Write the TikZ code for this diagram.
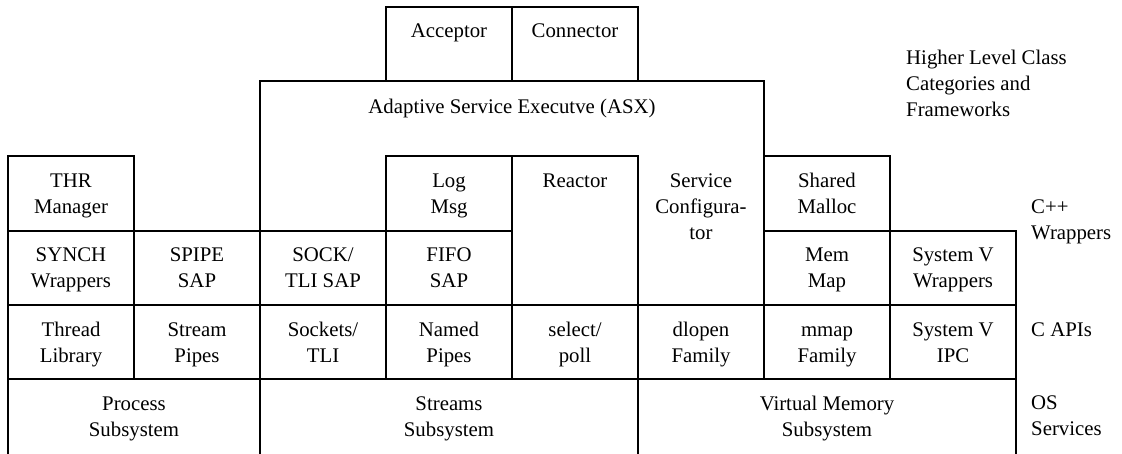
\documentclass[tikz,border=0pt]{standalone}
\usepackage{fontspec}
\setmainfont{Liberation Serif}
\newcommand{\fst}{\rule{0pt}{20pt}}
\begin{document}
\begin{tikzpicture}[x=1pt,y=-1pt,
  wall/.style={line width=1.2pt, line cap=rect},
  cell/.style={anchor=north, inner sep=0pt, align=center, font=\fontsize{20.8}{26}\selectfont},
  side/.style={anchor=north west, inner sep=0pt, align=left, font=\fontsize{20.8}{26}\selectfont}]
\useasboundingbox (0,0) rectangle (1122,454);
% horizontal lines
\draw[wall] (386,7) -- (638,7);
\draw[wall] (260,81) -- (764,81);
\draw[wall] (8,156) -- (134,156);
\draw[wall] (386,156) -- (638,156);
\draw[wall] (764,156) -- (890,156);
\draw[wall] (8,231) -- (512,231);
\draw[wall] (764,231) -- (1016,231);
\draw[wall] (8,305) -- (1016,305);
\draw[wall] (8,379) -- (1016,379);
% vertical lines
\draw[wall] (8,156) -- (8,455);
\draw[wall] (134,156) -- (134,379);
\draw[wall] (260,81) -- (260,455);
\draw[wall] (386,7) -- (386,81);
\draw[wall] (386,156) -- (386,379);
\draw[wall] (512,7) -- (512,81);
\draw[wall] (512,156) -- (512,379);
\draw[wall] (638,7) -- (638,81);
\draw[wall] (638,156) -- (638,455);
\draw[wall] (764,81) -- (764,379);
\draw[wall] (890,156) -- (890,379);
\draw[wall] (1016,231) -- (1016,455);
% texts (first baseline = y + 20)
\node[cell] (acc) at (449,17) {\fst Acceptor};
\node[cell] (con) at (575,17) {\fst Connector};
\node[cell] (asx) at (512,93) {\fst Adaptive Service Executve (ASX)};
\node[cell] (thr) at (71,167) {\fst THR\\Manager};
\node[cell] (log) at (449,167) {\fst Log\\Msg};
\node[cell] (reactor) at (575,167) {\fst Reactor};
\node[cell] (svc) at (701,167) {\fst Service\\Configura-\\tor};
\node[cell] (shm) at (827,167) {\fst Shared\\Malloc};
\node[cell] (synch) at (71,241) {\fst SYNCH\\Wrappers};
\node[cell] (spipe) at (197,241) {\fst SPIPE\\SAP};
\node[cell] (sock) at (323,241) {\fst SOCK/\\TLI SAP};
\node[cell] (fifo) at (449,241) {\fst FIFO\\SAP};
\node[cell] (memmap) at (827,241) {\fst Mem\\Map};
\node[cell] (sysvw) at (953,241) {\fst System V\\Wrappers};
\node[cell] (thread) at (71,316) {\fst Thread\\Library};
\node[cell] (spipes) at (197,316) {\fst Stream\\Pipes};
\node[cell] (sockets) at (323,316) {\fst Sockets/\\TLI};
\node[cell] (named) at (449,316) {\fst Named\\Pipes};
\node[cell] (select) at (575,316) {\fst select/\\poll};
\node[cell] (dlopen) at (701,316) {\fst dlopen\\Family};
\node[cell] (mmap) at (827,316) {\fst mmap\\Family};
\node[cell] (sysvipc) at (953,316) {\fst System V\\IPC};
\node[cell] (proc) at (134,390) {\fst Process\\Subsystem};
\node[cell] (streams) at (449,390) {\fst Streams\\Subsystem};
\node[cell] (vm) at (827,390) {\fst Virtual Memory\\Subsystem};
% side labels
\node[side] (lhigher) at (906,44) {\fst Higher Level Class\\Categories and\\Frameworks};
\node[side] (lcpp) at (1031,193) {\fst C++\\Wrappers};
\node[side] (lcapi) at (1031,316) {\fst C APIs};
\node[side] (los) at (1031,389) {\fst OS\\Services};
\end{tikzpicture}
\end{document}
